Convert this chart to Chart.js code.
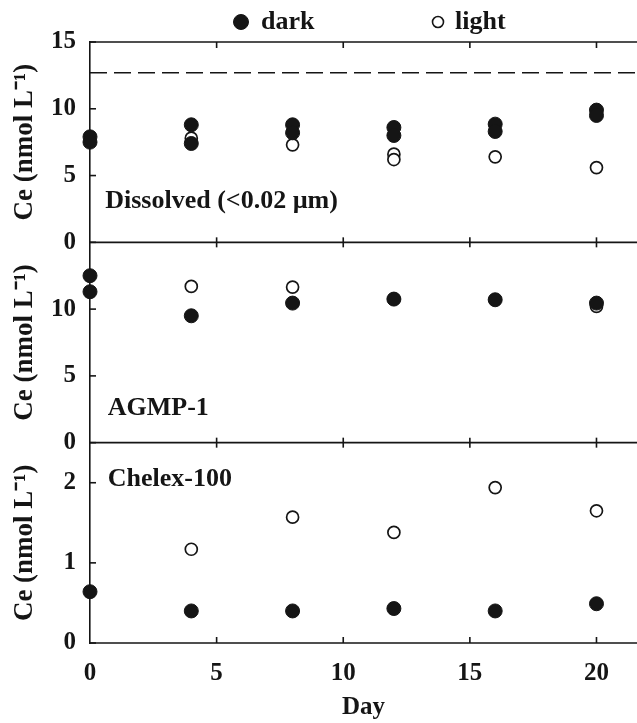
<!DOCTYPE html>
<html>
<head>
<meta charset="utf-8">
<script src="https://cdn.jsdelivr.net/npm/chart.js@4.4.0/dist/chart.umd.min.js"></script>
<style>
  html, body { margin: 0; padding: 0; background: #fff; }
  #wrap { width: 637px; height: 723px; position: relative; }
</style>
</head>
<body>
<div id="wrap"><canvas id="myChart" width="637" height="723"></canvas></div>
<script>
const ink = '#151515';
const serif = "'Liberation Serif', 'Times New Roman', serif";

// x axis
const dayTicks = [0, 5, 10, 15, 20];

// Dissolved (<0.02 um)
const dissolvedDarkDays = [0, 0, 4, 4, 8, 8, 12, 12, 16, 16, 20, 20];
const dissolvedDark = [7.9, 7.5, 8.8, 7.4, 8.8, 8.2, 8.6, 8.0, 8.85, 8.3, 9.9, 9.5];
const dissolvedLightDays = [4, 8, 12, 12, 16, 20];
const dissolvedLight = [7.8, 7.3, 6.6, 6.2, 6.4, 5.6];
const dissolvedStart = 12.7;
const dissolvedTicks = [0, 5, 10, 15];

// AGMP-1
const agmpDarkDays = [0, 0, 4, 8, 12, 16, 20];
const agmpDark = [12.5, 11.3, 9.5, 10.45, 10.75, 10.7, 10.45];
const agmpLightDays = [4, 8, 12, 16, 20];
const agmpLight = [11.7, 11.65, 10.75, 10.7, 10.2];
const agmpTicks = [0, 5, 10];

// Chelex-100
const chelexDarkDays = [0, 4, 8, 12, 16, 20];
const chelexDark = [0.64, 0.40, 0.40, 0.43, 0.40, 0.49];
const chelexLightDays = [4, 8, 12, 16, 20];
const chelexLight = [1.17, 1.57, 1.38, 1.94, 1.65];
const chelexTicks = [0, 1, 2];

const pts = (xs, ys) => xs.map((x, i) => ({x: x, y: ys[i]}));

function dark(label, xs, ys, axis) {
    return {
        label: label, data: pts(xs, ys), yAxisID: axis,
        pointStyle: 'circle', pointRadius: 7, pointBorderWidth: 1,
        backgroundColor: ink, borderColor: ink, clip: false
    };
}
function light(label, xs, ys, axis) {
    return {
        label: label, data: pts(xs, ys), yAxisID: axis,
        pointStyle: 'circle', pointRadius: 6, pointBorderWidth: 1.7,
        backgroundColor: '#fff', borderColor: ink, clip: false
    };
}

function yScale(ticks, max) {
    return {
        type: 'linear', position: 'left', stack: 'ce', stackWeight: 1,
        min: 0, max: max,
        afterBuildTicks: s => { s.ticks = ticks.map(v => ({value: v})); },
        afterFit: s => { s.width = 90; },
        grid: {display: false, drawTicks: false},
        border: {display: true, color: ink, width: 1.6},
        ticks: {color: ink, padding: 14, autoSkip: false, font: {family: serif, size: 25, weight: 'bold'}},
        title: {display: true, text: 'Ce (nmol L\u207B\u00B9)', color: ink,
                font: {family: serif, size: 27, weight: 'bold'}, padding: {top: 9, bottom: 0}}
    };
}

// frame lines and inward ticks, placed with the chart's own scales
const frame = {
    id: 'frame',
    beforeDatasetsDraw(chart) {
        const {ctx, chartArea: a, scales} = chart;
        const x = scales.x;
        const rows = [
            {y: scales.y1.top, up: 0, down: 6},
            {y: scales.y1.getPixelForValue(0), up: 5, down: 5},
            {y: scales.y2.getPixelForValue(0), up: 5, down: 5},
            {y: scales.y3.getPixelForValue(0), up: 6, down: 0}
        ];
        ctx.save();
        ctx.strokeStyle = ink;
        ctx.lineWidth = 1.6;
        rows.forEach(r => {
            ctx.beginPath();
            ctx.moveTo(a.left, r.y);
            ctx.lineTo(a.right, r.y);
            ctx.stroke();
            x.ticks.forEach(t => {
                if (t.value === 0) return;
                const px = x.getPixelForValue(t.value);
                ctx.beginPath();
                ctx.moveTo(px, r.y - r.up);
                ctx.lineTo(px, r.y + r.down);
                ctx.stroke();
            });
        });
        ['y1', 'y2', 'y3'].forEach(id => {
            const s = scales[id];
            s.ticks.forEach(t => {
                const py = s.getPixelForValue(t.value);
                ctx.beginPath();
                ctx.moveTo(a.left, py);
                ctx.lineTo(a.left + 6, py);
                ctx.stroke();
            });
        });
        ctx.restore();
    }
};

// panel names and the dark / light key
const notes = {
    id: 'notes',
    afterDraw(chart, args, opts) {
        const {ctx, scales} = chart;
        ctx.save();
        ctx.fillStyle = ink;
        ctx.textBaseline = 'alphabetic';
        ctx.font = 'bold 26px ' + serif;
        opts.panels.forEach(p => {
            ctx.fillText(p.text, scales.x.getPixelForValue(p.x), scales[p.axis].getPixelForValue(p.y));
        });
        opts.key.forEach(k => {
            const ds = chart.data.datasets[k.dataset];
            ctx.fillStyle = ds.backgroundColor;
            ctx.strokeStyle = ds.borderColor;
            ctx.lineWidth = k.border;
            Chart.helpers.drawPoint(ctx, {pointStyle: 'circle', radius: k.radius, borderWidth: k.border}, k.cx, k.cy);
            ctx.fillStyle = ink;
            ctx.fillText(ds.label, k.tx, k.ty);
        });
        ctx.restore();
    }
};

const ctx = document.getElementById('myChart');

new Chart(ctx, {
    type: 'scatter',
    data: {
        datasets: [
            dark('dark', dissolvedDarkDays, dissolvedDark, 'y1'),
            light('light', dissolvedLightDays, dissolvedLight, 'y1'),
            dark('dark', agmpDarkDays, agmpDark, 'y2'),
            light('light', agmpLightDays, agmpLight, 'y2'),
            dark('dark', chelexDarkDays, chelexDark, 'y3'),
            light('light', chelexLightDays, chelexLight, 'y3'),
            {
                type: 'line', label: 'initial', yAxisID: 'y1',
                data: [{x: 0, y: dissolvedStart}, {x: 21.6, y: dissolvedStart}],
                borderColor: ink, borderWidth: 1.6, borderDash: [17, 7],
                pointRadius: 0, fill: false
            }
        ]
    },
    options: {
        responsive: false,
        animation: false,
        devicePixelRatio: 1,
        layout: {autoPadding: false, padding: {top: 42, right: 0, left: 0, bottom: 0}},
        plugins: {
            legend: {display: false},
            tooltip: {enabled: false},
            notes: {
                panels: [
                    {text: 'Dissolved (<0.02 \u00B5m)', axis: 'y1', x: 0.6, y: 2.6},
                    {text: 'AGMP-1', axis: 'y2', x: 0.7, y: 2.1},
                    {text: 'Chelex-100', axis: 'y3', x: 0.7, y: 1.96}
                ],
                key: [
                    {dataset: 0, cx: 241, cy: 22, radius: 7.5, border: 1, tx: 261, ty: 29},
                    {dataset: 1, cx: 438, cy: 22, radius: 5.5, border: 1.6, tx: 455, ty: 29}
                ]
            }
        },
        scales: {
            x: {
                type: 'linear', position: 'bottom', min: 0, max: 21.6,
                afterBuildTicks: s => { s.ticks = dayTicks.map(v => ({value: v})); },
                afterFit: s => { s.height = 80; s.paddingLeft = 0; s.paddingRight = 0; },
                grid: {display: false, drawTicks: false},
                border: {display: false},
                ticks: {color: ink, padding: 16, autoSkip: false, maxRotation: 0,
                        font: {family: serif, size: 25, weight: 'bold'}},
                title: {display: true, text: 'Day', color: ink,
                        font: {family: serif, size: 25, weight: 'bold'}, padding: {top: 0, bottom: 0}}
            },
            // stacked left axes are laid out bottom-up in key order
            y3: yScale(chelexTicks, 2.5),
            y2: yScale(agmpTicks, 15),
            y1: yScale(dissolvedTicks, 15)
        }
    },
    plugins: [frame, notes]
});
</script>
</body>
</html>
